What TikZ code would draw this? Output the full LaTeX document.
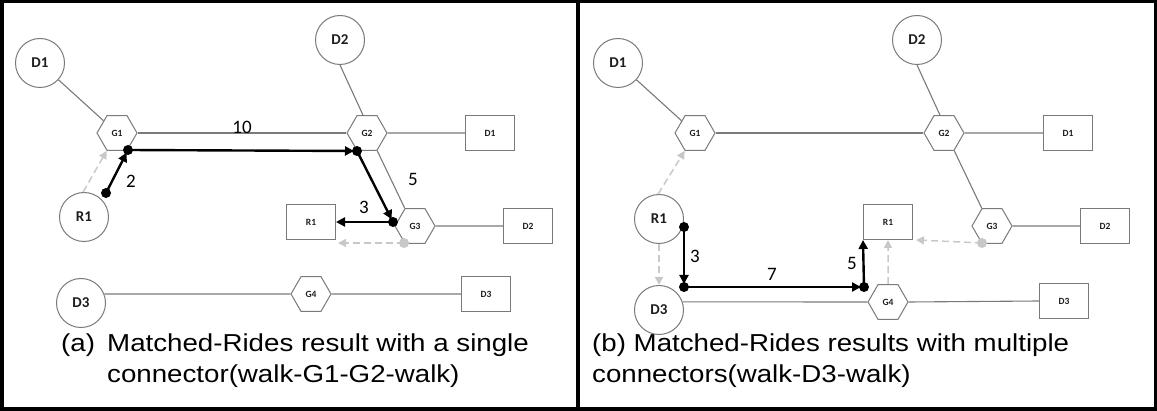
\documentclass[tikz,border=0pt]{standalone}
\usepackage{fontspec}
\setmainfont{Liberation Sans}
\newfontfamily\capfont[FakeStretch=1.13]{Liberation Sans}
\newfontfamily\calfont{Carlito}
\usetikzlibrary{shapes.geometric,arrows.meta}
\definecolor{edgegray}{HTML}{7A7A7A}
\definecolor{hintgray}{HTML}{C8C8C8}
\definecolor{labtext}{HTML}{1E1E1E}
\begin{document}
\begin{tikzpicture}[x=1pt,y=-1pt,
  circ/.style={circle, draw=edgegray, line width=1pt, fill=white, minimum size=49pt, inner sep=0pt,
    font=\calfont\bfseries\fontsize{15}{16}\selectfont, text=labtext},
  hexa/.style={regular polygon, regular polygon sides=6, draw=edgegray, line width=1pt, fill=white,
    minimum size=40pt, inner sep=0pt, font=\calfont\bfseries\fontsize{9.5}{10}\selectfont, text=labtext},
  sbox/.style={rectangle, draw=edgegray, line width=1pt, fill=white, minimum width=49pt, minimum height=35pt,
    inner sep=0pt, font=\calfont\bfseries\fontsize{9.5}{10}\selectfont, text=labtext},
  road/.style={draw=edgegray, line width=1.1pt},
  walk/.style={draw=black, line width=2.4pt, -{Triangle[length=9pt,width=9pt]}, shorten >=3pt},
  hint/.style={draw=hintgray, line width=1.5pt, dash pattern=on 7pt off 4pt, -{Triangle[length=8pt,width=8pt]}},
  wlab/.style={font=\calfont\fontsize{19}{20}\selectfont, inner sep=0pt},
  captext/.style={anchor=base west, inner sep=0pt, font=\capfont\fontsize{24.5}{28}\selectfont}
]
\useasboundingbox (0,0) rectangle (1157,411);
\draw[line width=3.5pt] (1.75,1.75) rectangle (1155.25,409.25);
\draw[line width=4pt] (578,0) -- (578,411);

% ---------------- panel (a) ----------------
\node[circ] (aD1c) at (40,63) {D1};
\node[circ] (aD2c) at (340,40) {D2};
\node[hexa] (aG1) at (117,133) {G1};
\node[hexa] (aG2) at (367,133) {G2};
\node[sbox] (aD1b) at (490,133) {D1};
\node[circ] (aR1c) at (84,217) {R1};
\node[sbox] (aR1b) at (311,222) {R1};
\node[hexa] (aG3) at (415,226) {G3};
\node[sbox] (aD2b) at (528,226) {D2};
\node[circ] (aD3c) at (81,303) {D3};
\node[hexa] (aG4) at (311,294) {G4};
\node[sbox] (aD3b) at (486,294) {D3};

\draw[road] (aD1c) -- (aG1);
\draw[road] (aD2c.south) -- ([xshift=-4pt]aG2.north);
\draw[road] (aG1.east) -- (aG2.west);
\draw[road] (aG2.east) -- (aD1b.west);
\draw[road] (aG2.-60) -- (aG3.120);
\draw[road] (aG3.east) -- (aD2b.west);
\draw[road] (aD3c.21) -- (aG4.west);
\draw[road] (aG4.east) -- (aD3b.west);

\coordinate (a1) at (106,193);
\coordinate (a2) at (128,150);
\coordinate (a3) at (357,151);
\coordinate (a4) at (393,222);
\coordinate (ag) at (404,243);
\coordinate (aq) at (338,243);

\draw[hint] (aR1c.92) -- (aG1.-120);
\fill[hintgray] (ag) circle (5pt);
\draw[hint] (ag) -- (aq);

\draw[walk] (a1) -- (a2);
\draw[walk] (a2) -- (a3);
\draw[walk] (a3) -- (a4);
\draw[walk, shorten >=0pt] (a4) -- (aR1b.east);
\foreach \p in {a1,a2,a3,a4} \fill (\p) circle (5pt);

\node[wlab] (aL2) at (131,181) {2};
\node[wlab] (aL10) at (242,127) {10};
\node[wlab] (aL5) at (413,179) {5};
\node[wlab] (aL3) at (364,207) {3};

\node[captext] (aCapA) at (61,352) {(a)};
\node[captext] (aCap1) at (107,352) {Matched-Rides result with a single};
\node[captext] (aCap2) at (107,383) {connector(walk-G1-G2-walk)};

% ---------------- panel (b) ----------------
\node[circ] (bD1c) at (618,63) {D1};
\node[circ] (bD2c) at (917,40) {D2};
\node[hexa] (bG1) at (695,133) {G1};
\node[hexa] (bG2) at (944,133) {G2};
\node[sbox] (bD1b) at (1068,133) {D1};
\node[circ] (bR1c) at (659,219) {R1};
\node[sbox] (bR1b) at (888,222) {R1};
\node[hexa] (bG3) at (992,226) {G3};
\node[sbox] (bD2b) at (1105,226) {D2};
\node[circ] (bD3c) at (659,310) {D3};
\node[hexa] (bG4) at (888,302) {G4};
\node[sbox] (bD3b) at (1064,301) {D3};

\draw[road] (bD1c) -- (bG1);
\draw[road] (bD2c.south) -- ([xshift=-4pt]bG2.north);
\draw[road] (bG1.east) -- (bG2.west);
\draw[road] (bG2.east) -- (bD1b.west);
\draw[road] (bG2.-60) -- (bG3.120);
\draw[road] (bG3.east) -- (bD2b.west);
\draw[road] (bD3c.19) -- (bG4.west);
\draw[road] (bG4.east) -- (bD3b.west);

\coordinate (b1) at (684,227);
\coordinate (b2) at (684,287);
\coordinate (b3) at (864,287);
\coordinate (bg) at (982,243);
\coordinate (bq) at (916,240);

\draw[hint] (bR1c.south) -- (bD3c.north);
\draw[hint] (bG4.north) -- (bR1b.south);
\draw[hint] (bR1c.92) -- (bG1.-120);
\fill[hintgray] (bg) circle (5pt);
\draw[hint] (bg) -- (bq);

\draw[walk] (b1) -- (b2);
\draw[walk] (b2) -- (b3);
\draw[walk, shorten >=0pt] (b3) -- (bR1b.south west);
\foreach \p in {b1,b2,b3} \fill (\p) circle (5pt);

\node[wlab] (bL3) at (695,256) {3};
\node[wlab] (bL7) at (772,274) {7};
\node[wlab] (bL5) at (852,263) {5};

\node[captext] (bCap1) at (592,352) {(b) Matched-Rides results with multiple};
\node[captext] (bCap2) at (592,383) {connectors(walk-D3-walk)};
\end{tikzpicture}
\end{document}
